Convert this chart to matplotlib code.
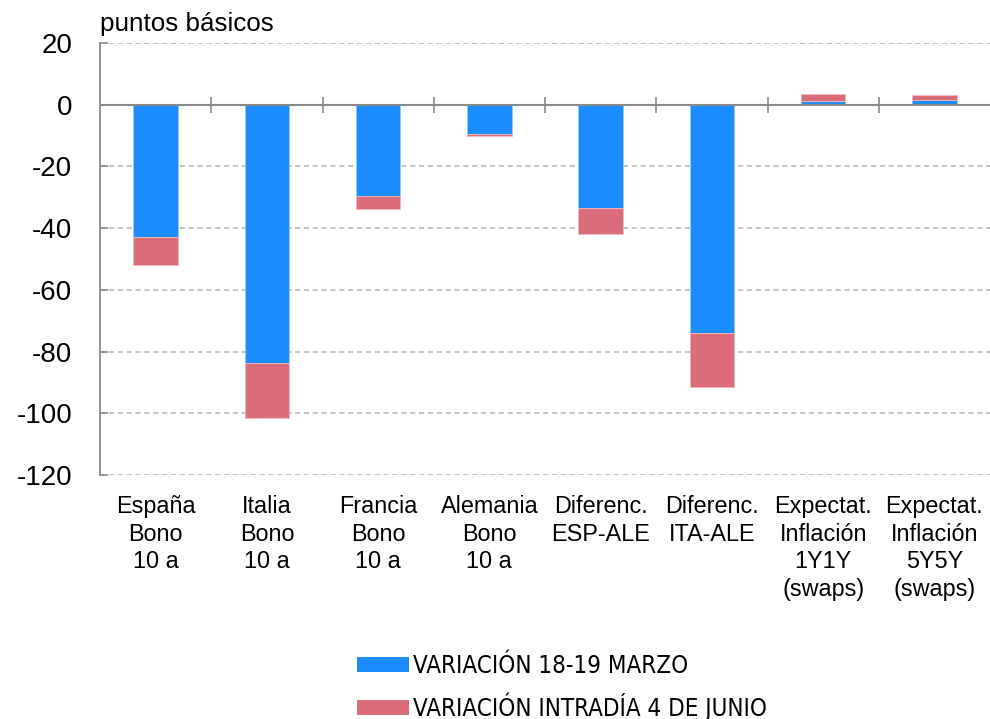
import matplotlib
matplotlib.use("Agg")
import matplotlib.pyplot as plt
import numpy as np

plt.rcParams['font.family'] = ['Liberation Sans', 'DejaVu Sans']
plt.rcParams['axes.unicode_minus'] = False

# Categories and values (basis points)
categories = [
    "España\nBono\n10 a",
    "Italia\nBono\n10 a",
    "Francia\nBono\n10 a",
    "Alemania\nBono\n10 a",
    "Diferenc.\nESP-ALE",
    "Diferenc.\nITA-ALE",
    "Expectat.\nInflación\n1Y1Y\n(swaps)",
    "Expectat.\nInflación\n5Y5Y\n(swaps)",
]
var_marzo = [-43.0, -83.7, -29.5, -9.6, -33.4, -74.1, 1.1, 1.4]
var_junio = [-8.9, -17.9, -4.2, -0.45, -8.4, -17.4, 2.4, 1.7]
y_ticks = [20, 0, -20, -40, -60, -80, -100, -120]

label_marzo = "VARIACIÓN 18-19 MARZO"
label_junio = "VARIACIÓN INTRADÍA 4 DE JUNIO"
unit_label = "puntos básicos"

blue = "#1B8CFF"
red = "#DB6C79"
grey = "#8A8A8A"

fig = plt.figure(figsize=(9.9, 7.19), dpi=100)
ax = fig.add_axes([100 / 990, 1 - 475 / 719, 890 / 990, (475 - 43) / 719])

x = np.arange(len(categories))
width = 0.40
ax.bar(x, var_marzo, width, color=blue, zorder=3, label=label_marzo,
       edgecolor="#9CCBFF", linewidth=0.6)
ax.bar(x, var_junio, width, bottom=var_marzo, color=red, zorder=3,
       label=label_junio, edgecolor="#F0B8BF", linewidth=0.6)

ax.set_xlim(-0.5, len(categories) - 0.5)
ax.set_ylim(-120, 20)
ax.set_yticks(y_ticks)
ax.set_yticklabels([str(v) for v in y_ticks])

# Dashed horizontal gridlines
for v in y_ticks:
    if v != 0:
        ax.axhline(v, color="#B4B4B4", lw=1.1, ls=(0, (3.4, 2.4)), zorder=1)
ax.axhline(0, color=grey, lw=1.5, zorder=4)

# Category separator ticks on the zero line
bounds = np.arange(len(categories) - 1) + 0.5
ax.vlines(bounds, -2.6, 2.6, color=grey, lw=1.2, zorder=4)

for s in ["top", "right", "bottom"]:
    ax.spines[s].set_visible(False)
ax.spines["left"].set_color(grey)
ax.spines["left"].set_linewidth(1.3)

ax.tick_params(axis="y", direction="in", length=6, width=1.2, color=grey,
               labelsize=20, pad=20)
ax.tick_params(axis="x", length=0)
ax.set_xticks(x)
ax.set_xticklabels([])

# Category labels below the plot area
for xi, lab in zip(x, categories):
    ax.text(xi, -126.5, lab, ha="center", va="top",
            fontsize=16.8, linespacing=1.25)

fig.text(100 / 990, 1 - 31 / 719, unit_label, fontsize=18.7,
         ha="left", va="baseline")

leg = fig.legend(loc="upper left", bbox_to_anchor=(357 / 990, 1 - 654 / 719),
                 frameon=False, borderpad=0, borderaxespad=0,
                 handlelength=2.17, handleheight=0.58, handletextpad=0.17,
                 labelspacing=0.6,
                 prop={"family": "DejaVu Sans", "stretch": "condensed",
                       "size": 17.3})
for h in leg.legend_handles:
    h.set_linewidth(0)

fig.savefig("out.png", dpi=100)
